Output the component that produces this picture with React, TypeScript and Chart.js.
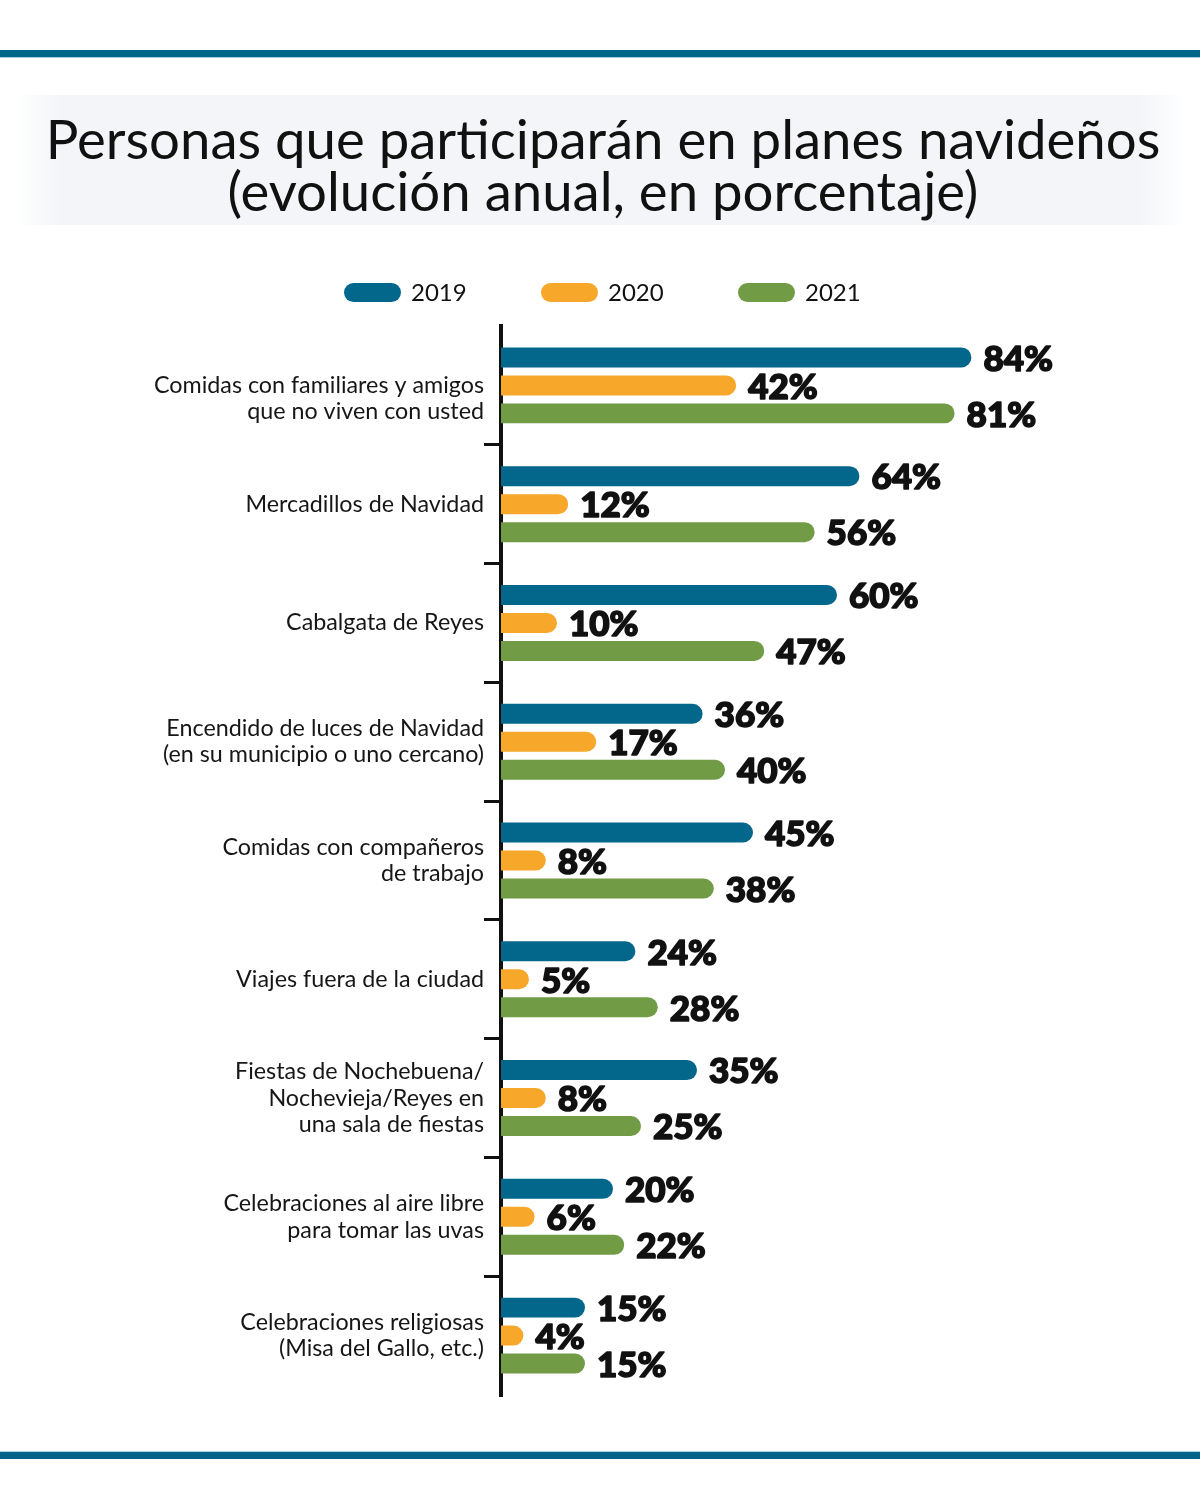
import React, { useEffect, useRef } from "react";
import { Chart, registerables } from "chart.js";

Chart.register(...registerables);

const categories: string[][] = [
  ["", "Comidas con familiares y amigos", "que no viven con usted"],
  ["Mercadillos de Navidad"],
  ["Cabalgata de Reyes"],
  ["Encendido de luces de Navidad", "(en su municipio o uno cercano)"],
  ["Comidas con compañeros", "de trabajo"],
  ["Viajes fuera de la ciudad"],
  ["Fiestas de Nochebuena/", "Nochevieja/Reyes en", "una sala de fiestas"],
  ["Celebraciones al aire libre", "para tomar las uvas"],
  ["Celebraciones religiosas", "(Misa del Gallo, etc.)"],
];

const seriesNames = ["2019", "2020", "2021"];
const values2019 = [84, 64, 60, 36, 45, 24, 35, 20, 15];
const values2020 = [42, 12, 10, 17, 8, 5, 8, 6, 4];
const values2021 = [81, 56, 47, 40, 38, 28, 25, 22, 15];
const seriesColors = ["#03668b", "#f7a82a", "#719b44"];

const titleLines = [
  "Personas que participarán en planes navideños",
  "(evolución anual, en porcentaje)",
];

const FONT = "Lato, 'Noto Sans', sans-serif";

function roundRect(ctx: CanvasRenderingContext2D, x: number, y: number, w: number, h: number, r: number) {
  ctx.beginPath();
  ctx.moveTo(x + r, y);
  ctx.lineTo(x + w - r, y);
  ctx.arc(x + w - r, y + r, r, -Math.PI / 2, Math.PI / 2);
  ctx.lineTo(x + r, y + h);
  ctx.arc(x + r, y + r, r, Math.PI / 2, (3 * Math.PI) / 2);
  ctx.closePath();
}

const decorPlugin = {
  id: "decor",
  beforeDraw(chart: any) {
    const ctx: CanvasRenderingContext2D = chart.ctx;
    const W = chart.width;
    ctx.save();
    ctx.fillStyle = "#ffffff";
    ctx.fillRect(0, 0, W, chart.height);
    // top & bottom rules
    ctx.fillStyle = "#04658a";
    ctx.fillRect(0, 50, W, 7);
    ctx.fillRect(0, 1452, W, 7);
    ctx.fillStyle = "#a9cfe0";
    ctx.fillRect(0, 57, W, 1);
    ctx.fillRect(0, 1451, W, 1);
    // title band
    const g = ctx.createLinearGradient(15, 0, 1185, 0);
    g.addColorStop(0, "rgba(243,245,248,0)");
    g.addColorStop(0.04, "rgba(243,245,248,1)");
    g.addColorStop(0.96, "rgba(243,245,248,1)");
    g.addColorStop(1, "rgba(243,245,248,0)");
    ctx.fillStyle = g;
    ctx.fillRect(15, 95, 1170, 130);
    // title
    ctx.fillStyle = "#111111";
    ctx.textAlign = "center";
    ctx.textBaseline = "alphabetic";
    ctx.font = `52px ${FONT}`;
    const w = ctx.measureText(titleLines[0]).width;
    const size = Math.max(30, Math.min(60, 52 * (1115 / w)));
    ctx.font = `${size}px ${FONT}`;
    ctx.fillText(titleLines[0], 603, 159);
    ctx.fillText(titleLines[1], 603, 211);
    // legend
    ctx.font = `24px ${FONT}`;
    ctx.textAlign = "left";
    ctx.textBaseline = "middle";
    chart.data.datasets.forEach((ds: any, i: number) => {
      const x0 = 344 + i * 197;
      ctx.fillStyle = ds.backgroundColor;
      roundRect(ctx, x0, 283, 57, 19, 9.5);
      ctx.fill();
      ctx.fillStyle = "#111111";
      ctx.fillText(ds.label, x0 + 67, 293);
    });
    ctx.restore();
  },
  afterDatasetsDraw(chart: any) {
    const ctx: CanvasRenderingContext2D = chart.ctx;
    ctx.save();
    ctx.fillStyle = "#111111";
    ctx.strokeStyle = "#111111";
    ctx.lineWidth = 1.6;
    ctx.lineJoin = "round";
    ctx.font = `900 35px ${FONT}`;
    ctx.textAlign = "left";
    ctx.textBaseline = "middle";
    chart.data.datasets.forEach((ds: any, di: number) => {
      const meta = chart.getDatasetMeta(di);
      meta.data.forEach((bar: any, i: number) => {
        const t = `${ds.data[i]}%`;
        ctx.fillText(t, bar.x + 12, bar.y + 2);
        ctx.strokeText(t, bar.x + 12, bar.y + 2);
      });
    });
    ctx.restore();
  },
};

export default function App() {
  const ref = useRef<HTMLCanvasElement | null>(null);
  useEffect(() => {
    document.body.style.margin = "0";
    if (!ref.current) return;
    const data = [values2019, values2020, values2021];
    const chart = new Chart(ref.current, {
      type: "bar",
      data: {
        labels: categories,
        datasets: seriesNames.map((name, i) => ({
          label: name,
          data: data[i],
          backgroundColor: seriesColors[i],
          borderRadius: 10,
          borderSkipped: "start",
          categoryPercentage: 0.707,
          barPercentage: 0.714,
        })),
      },
      options: {
        indexAxis: "y",
        responsive: false,
        animation: false,
        layout: { padding: { left: 0, right: 139, top: 326, bottom: 115 } },
        plugins: { legend: { display: false }, title: { display: false }, tooltip: { enabled: false } },
        scales: {
          x: { display: false, min: 0, max: 100 },
          y: {
            afterFit: (scale: any) => {
              scale.width = 501;
            },
            border: { display: true, color: "#111111", width: 4 },
            grid: {
              drawOnChartArea: false,
              drawTicks: true,
              tickLength: 17,
              lineWidth: 3,
              color: (ctx: any) =>
                ctx.index === undefined || ctx.index === 0 ? "rgba(0,0,0,0)" : "#111111",
            },
            ticks: {
              padding: 0,
              color: "#161616",
              font: { family: FONT, size: 23.3, lineHeight: 26.5 / 23.3 },
            },
          },
        },
      },
      plugins: [decorPlugin],
    } as any);
    let alive = true;
    if ((document as any).fonts) {
      Promise.all([
        document.fonts.load(`23px Lato`),
        document.fonts.load(`900 35px Lato`),
        document.fonts.load(`52px Lato`),
      ]).then(() => {
        if (alive) chart.update();
      }).catch(() => {});
    }
    return () => {
      alive = false;
      chart.destroy();
    };
  }, []);
  return (
    <div style={{ width: 1200, height: 1510 }}>
      <canvas ref={ref} width={1200} height={1510} style={{ display: "block" }} />
    </div>
  );
}
